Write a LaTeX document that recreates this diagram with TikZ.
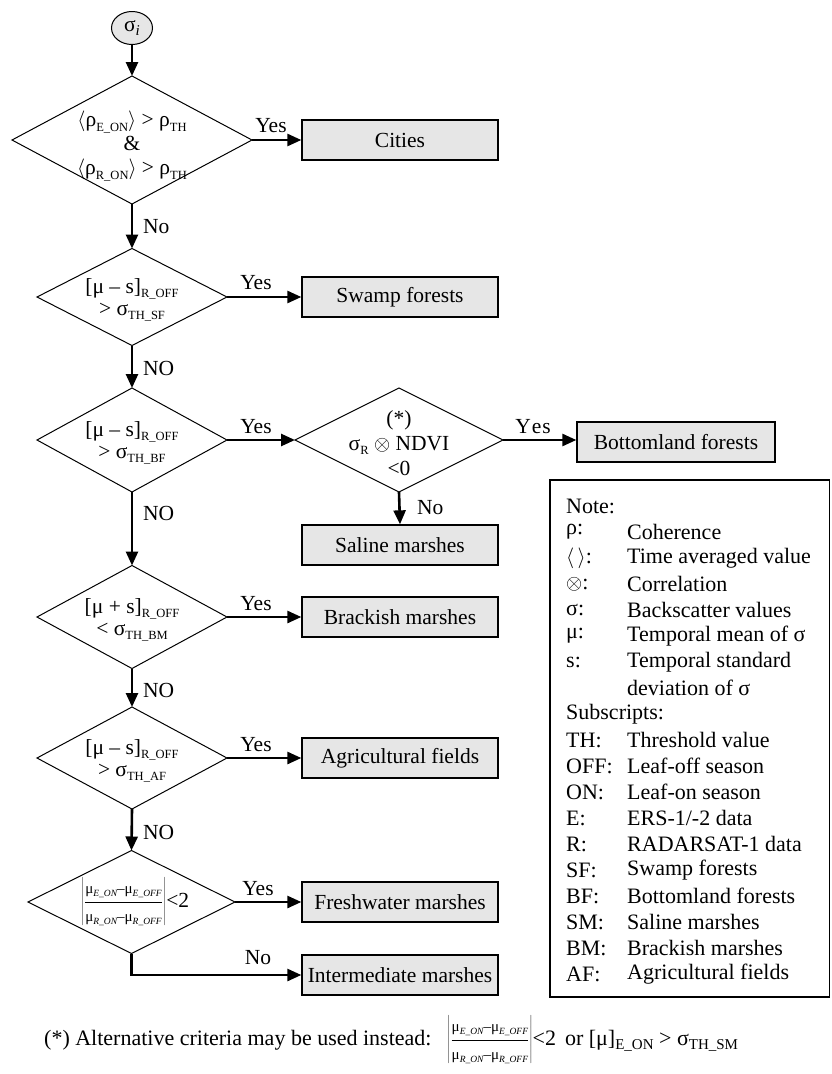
\documentclass[tikz,border=0pt]{standalone}
\usepackage{fontspec}
\setmainfont{Liberation Serif}
\usetikzlibrary{shapes.geometric,arrows.meta}
\definecolor{boxgray}{HTML}{E6E6E6}
\newcommand\lo[1]{\raisebox{-0.45ex}{\fontsize{12.5}{12.5}\selectfont #1}}
\newcommand\lf[1]{\raisebox{-0.45ex}{\fontsize{15}{15}\selectfont #1}}
\newcommand\li[1]{\raisebox{-0.5ex}{\fontsize{9.5}{9.5}\selectfont\itshape #1}}
\newcommand\fmu{\fontsize{15}{15}\selectfont}
\newcommand\ratio{$\displaystyle\left|\frac{\mbox{\fmu μ\li{E\_ON}–μ\li{E\_OFF}}}{\mbox{\fmu μ\li{R\_ON}–μ\li{R\_OFF}}}\right|$}
\begin{document}
\begin{tikzpicture}[x=1pt,y=-1pt,font=\fontsize{21.5}{26}\selectfont,
  flow/.style={line width=2.6pt,-{Triangle[length=14pt,width=12pt]}},
  dia/.style={diamond,draw,line width=1pt,inner sep=0pt,outer sep=0pt},
  dtext/.style={align=center,inner sep=0pt},
  res/.style={draw,line width=1.3pt,fill=boxgray,minimum width=196pt,minimum height=40pt,inner sep=0pt},
  lab/.style={inner sep=0pt},
  nol/.style={anchor=west,inner sep=0pt},
  lt/.style={anchor=west,inner sep=0pt,font=\fontsize{22}{26}\selectfont}]
\useasboundingbox (0,0) rectangle (831,1074);

% start
\node[ellipse,draw,line width=1pt,fill=boxgray,minimum width=41pt,minimum height=33pt,inner sep=0pt] (s0) at (132,28) {σ\raisebox{-0.4ex}{\fontsize{15}{15}\selectfont\itshape i}};

% diamonds
\node[dia,minimum width=240pt,minimum height=128pt] (d1) at (132,140) {};
\node[dtext] (t1) at (132,146) {$\langle$ρ\lo{E\_ON}$\rangle$ > ρ\lo{TH}\\[-2pt] \&\\[-2pt] $\langle$ρ\lo{R\_ON}$\rangle$ > ρ\lo{TH}};

\node[dia,minimum width=190pt,minimum height=97pt] (d2) at (132,297) {};
\node[dtext] (t2) at (132,300) {[μ – s]\lo{R\_OFF}\\[-4pt] > σ\lo{TH\_SF}};

\node[dia,minimum width=190pt,minimum height=104pt] (d3) at (132,440) {};
\node[dtext] (t3) at (132,443) {[μ – s]\lo{R\_OFF}\\[-4pt] > σ\lo{TH\_BF}};

\node[dia,minimum width=208pt,minimum height=104pt] (nd) at (399,440) {};
\node[dtext] (tn) at (399,443) {(*)\\[-1pt] σ\lo{R} $\otimes$ NDVI\\[-1pt] <0};

\node[dia,minimum width=190pt,minimum height=103pt] (d4) at (132,617) {};
\node[dtext] (t4) at (132,620) {[μ + s]\lo{R\_OFF}\\[-4pt] < σ\lo{TH\_BM}};

\node[dia,minimum width=190pt,minimum height=102pt] (d5) at (132,758) {};
\node[dtext] (t5) at (132,761) {[μ – s]\lo{R\_OFF}\\[-4pt] > σ\lo{TH\_AF}};

\node[dia,minimum width=207pt,minimum height=103pt] (d6) at (131.5,902) {};
\node[dtext] (t6) at (135,902) {\ratio<2};

% result boxes
\node[res] (cities) at (400,140) {Cities};
\node[res] (swamp) at (400,297) {Swamp forests};
\node[res,minimum width=198pt] (bottom) at (676,442) {Bottomland forests};
\node[res] (saline) at (400,545) {Saline marshes};
\node[res] (brack) at (400,617) {Brackish marshes};
\node[res] (agri) at (400,758) {Agricultural fields};
\node[res] (fresh) at (400,902) {Freshwater marshes};
\node[res] (inter) at (400,975) {Intermediate marshes};

% connectors
\draw[flow] (s0.south) -- (d1.north);
\draw[flow] (d1.south) -- (d2.north);
\draw[flow] (d2.south) -- (d3.north);
\draw[flow] (d3.south) -- (d4.north);
\draw[flow] (d4.south) -- (d5.north);
\draw[flow] (d5.south) -- (d6.north);
\draw[flow] (d1.east) -- (cities.west);
\draw[flow] (d2.east) -- (swamp.west);
\draw[flow] (d3.east) -- (nd.west);
\draw[flow] (nd.east) -- (nd.east -| bottom.west);
\draw[flow] (nd.south) -- (saline.north);
\draw[flow] (d4.east) -- (brack.west);
\draw[flow] (d5.east) -- (agri.west);
\draw[flow] (d6.east) -- (fresh.west);
\draw[flow] (d6.south) |- (inter.west);

% labels
\node[lab] (y1) at (271,126) {Yes};
\node[nol] (n1) at (143,227) {No};
\node[lab] (y2) at (256,283) {Yes};
\node[nol] (n2) at (143,368) {NO};
\node[lab] (y3) at (256,427) {Yes};
\node[lab] (yn) at (533,427) {Y\kern1pt e\kern1pt s};
\node[nol] (nn) at (417,508) {No};
\node[nol] (n3) at (143,513) {NO};
\node[lab] (y4) at (256,604) {Yes};
\node[nol] (n4) at (143,690) {NO};
\node[lab] (y5) at (256,745) {Yes};
\node[nol] (n5) at (143,832) {NO};
\node[lab] (y6) at (258,889) {Yes};
\node[lab] (n6) at (258,958) {No};

% legend
\draw[line width=1.2pt] (550,480) rectangle (829.5,997);
\node[lt] (l0) at (566,506) {Note:};
\node[lt] (la1) at (566,532) {ρ:};            \node[lt] (lb1) at (627,532) {Coherence};
\node[lt] (la2) at (566,558) {$\langle\,\rangle$:}; \node[lt] (lb2) at (627,558) {Time averaged value};
\node[lt] (la3) at (566,584) {$\otimes$:};    \node[lt] (lb3) at (627,584) {Correlation};
\node[lt] (la4) at (566,610) {σ:};            \node[lt] (lb4) at (627,610) {Backscatter values};
\node[lt] (la5) at (566,636) {μ:};            \node[lt] (lb5) at (627,636) {Temporal mean of σ};
\node[lt] (la6) at (566,662) {s:};            \node[lt] (lb6) at (627,662) {Temporal standard};
\node[lt] (lb7) at (627,688) {deviation of σ};
\node[lt] (l8) at (566,714) {Subscripts:};
\node[lt] (la9) at (566,740) {TH:};   \node[lt] (lb9) at (627,740) {Threshold value};
\node[lt] (la10) at (566,766) {OFF:}; \node[lt] (lb10) at (627,766) {Leaf-off season};
\node[lt] (la11) at (566,792) {ON:};  \node[lt] (lb11) at (627,792) {Leaf-on season};
\node[lt] (la12) at (566,818) {E:};   \node[lt] (lb12) at (627,818) {ERS-1/-2 data};
\node[lt] (la13) at (566,844) {R:};   \node[lt] (lb13) at (627,844) {RADARSAT-1 data};
\node[lt] (la14) at (566,870) {SF:};  \node[lt] (lb14) at (627,870) {Swamp forests};
\node[lt] (la15) at (566,896) {BF:};  \node[lt] (lb15) at (627,896) {Bottomland forests};
\node[lt] (la16) at (566,922) {SM:};  \node[lt] (lb16) at (627,922) {Saline marshes};
\node[lt] (la17) at (566,948) {BM:};  \node[lt] (lb17) at (627,948) {Brackish marshes};
\node[lt] (la18) at (566,974) {AF:};  \node[lt] (lb18) at (627,974) {Agricultural fields};

% footnote
\node[lt] (f1) at (44,1040) {(*) Alternative criteria may be used instead:};
\node[lt] (f2) at (447,1040) {\ratio<2\hspace{9pt}or [μ]\lf{E\_ON} > σ\lf{TH\_SM}};
\end{tikzpicture}
\end{document}
